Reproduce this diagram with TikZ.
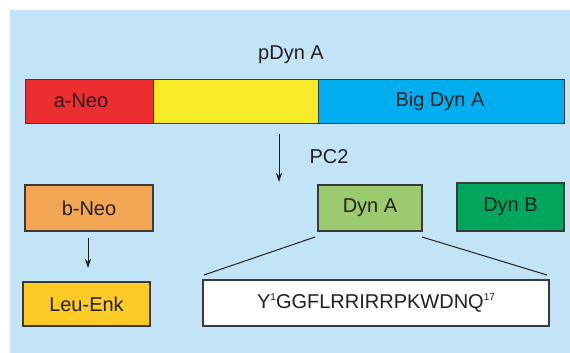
\documentclass[tikz,border=0pt]{standalone}
\usepackage{fontspec}
\setmainfont{Liberation Sans}
\usetikzlibrary{arrows.meta}
\definecolor{bgblue}{HTML}{C3E4F6}
\definecolor{neored}{HTML}{EE2D31}
\definecolor{midyellow}{HTML}{F7EA27}
\definecolor{bigblue}{HTML}{00AEEF}
\definecolor{bneo}{HTML}{F3A653}
\definecolor{dyna}{HTML}{9BCB6E}
\definecolor{dynb}{HTML}{00A65C}
\definecolor{leuenk}{HTML}{FCCB25}
\definecolor{edge}{HTML}{3A3A3A}
\definecolor{ink}{HTML}{231F20}
\tikzset{
  box/.style={draw=edge, line width=1.3pt, inner sep=0pt, text=ink,
    font=\fontsize{20}{23}\selectfont},
  lbl/.style={text=ink, inner sep=0pt, font=\fontsize{20}{23}\selectfont},
  arr/.style={draw=ink, line width=1pt, -{Stealth[length=9pt,width=6pt]}},
  ln/.style={draw=ink, line width=1pt}
}
\newcommand{\supnum}[1]{\raisebox{0.42em}{\fontsize{10}{11}\selectfont #1}}
\begin{document}
\begin{tikzpicture}[x=1pt,y=-1pt]
\useasboundingbox (0,0) rectangle (570,353);
\fill[white] (0,0) rectangle (570,353);
\fill[bgblue] (10,10) rectangle (570,353);
% bar
\node[box, fill=neored, minimum width=128, minimum height=44, anchor=north west] (aneo) at (25,79) {};
\node[box, fill=midyellow, minimum width=165, minimum height=44, anchor=north west] (mid) at (153,79) {};
\node[box, fill=bigblue, minimum width=246, minimum height=44, anchor=north west] (bigdyn) at (318,79) {};
\node[lbl] (aneotxt) at (81,101) {a-Neo};
\node[lbl] (bigtxt) at (440,101) {Big Dyn A};
\node[lbl] (pdyn) at (291,55) {pDyn A};
% PC2 arrow
\coordinate (pcs) at (279,134);
\coordinate (pce) at (279,182);
\draw[arr] (pcs) -- (pce);
\node[lbl] (pc2) at (329,157) {PC2};
% lower boxes
\node[box, fill=bneo, minimum width=128, minimum height=46] (bneo) at (89,208) {b-Neo};
\node[box, fill=leuenk, minimum width=127, minimum height=44] (leu) at (86.5,304) {Leu-Enk};
\node[box, fill=dyna, minimum width=104, minimum height=46] (dyna) at (370,208) {Dyn A};
\node[box, fill=dynb, minimum width=107, minimum height=48] (dynb) at (510.5,207) {Dyn B};
\node[box, fill=white, minimum width=346, minimum height=46] (seq) at (376,303)
  {Y\supnum{1}GGFLRRIRRPKWDNQ\supnum{17}};
% arrow b-Neo -> Leu-Enk
\coordinate (la) at (88,238);
\coordinate (lb) at (88,268);
\draw[arr] (la) -- (lb);
% expansion lines
\coordinate (d1) at (315,237);
\coordinate (s1) at (204,275);
\coordinate (d2) at (422,237);
\coordinate (s2) at (547,275);
\draw[ln] (d1) -- (s1);
\draw[ln] (d2) -- (s2);
\end{tikzpicture}
\end{document}
